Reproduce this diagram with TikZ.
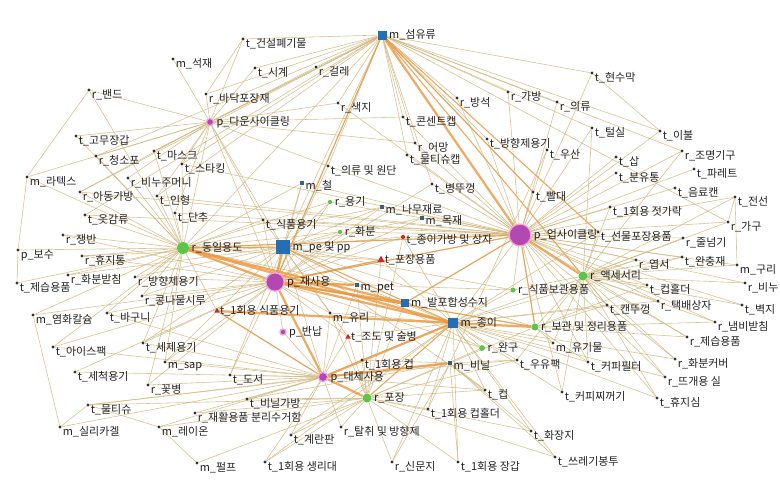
\documentclass[tikz,border=0pt]{standalone}
\usepackage{fontspec}
\newfontfamily\kr{Noto Sans CJK KR}
\definecolor{netBlue}{RGB}{38, 110, 180}
\definecolor{netTeal}{RGB}{50, 100, 130}
\definecolor{netPurple}{RGB}{178, 72, 176}
\definecolor{netPink}{RGB}{244, 160, 222}
\definecolor{netGreen}{RGB}{92, 196, 72}
\definecolor{netRed}{RGB}{204, 40, 40}
\definecolor{netDot}{RGB}{50, 50, 50}
\definecolor{netText}{RGB}{35, 35, 35}
\definecolor{edgeTan}{RGB}{210, 184, 128}
\definecolor{edgeOrange}{RGB}{236, 150, 60}
\usetikzlibrary{backgrounds, shapes.geometric}

\begin{document}
\begin{tikzpicture}[
    x=0.025cm, y=-0.025cm,
    lbl/.style={font=\kr\fontsize{7.8}{9}\selectfont, text=netText, inner sep=0.5pt},
    leaf/.style={circle, fill=netDot, inner sep=0pt, minimum size=2.2pt,
                 label={[lbl, yshift=-3.5pt]right:#1}},
    mdot/.style={rectangle, fill=netTeal, inner sep=0pt, minimum size=3.5pt,
                 label={[lbl, yshift=-2pt]right:#1}},
    rdot/.style={circle, fill=netRed, inner sep=0pt, minimum size=3pt,
                 label={[lbl, yshift=-2pt]right:#1}},
    msq/.style 2 args={rectangle, fill=netBlue, inner sep=0pt, minimum size=#2,
                       label={[lbl, label distance=1pt]right:#1}},
    pcirc/.style 2 args={circle, fill=netPurple, draw=netPink, line width=0.9pt,
                         inner sep=0pt, minimum size=#2,
                         label={[lbl, label distance=1pt]right:#1}},
    gcirc/.style 2 args={circle, fill=netGreen, inner sep=0pt, minimum size=#2,
                         label={[lbl, label distance=1pt]right:#1}},
    rtri/.style 2 args={regular polygon, regular polygon sides=3, fill=netRed,
                        inner sep=0pt, minimum size=#2,
                        label={[lbl]right:#1}},
    conn/.style={draw=edgeTan, line width=0.42pt, opacity=0.85},
    warm/.style={draw=edgeOrange!75!edgeTan, line width=0.8pt, opacity=0.85},
    strong/.style={draw=edgeOrange, line width=1.6pt, opacity=0.8},
  ]
    \useasboundingbox (0,0) rectangle (780,480);

    % hubs
    \node[msq={m\_섬유류}{6.4pt}] (mFiber) at (382,35) {};
    \node[msq={m\_pe 및 pp}{10pt}] (mPePp) at (283,247) {};
    \node[msq={m\_종이}{7pt}] (mPaper) at (453,323) {};
    \node[msq={m\_발포합성수지}{5pt}] (mFoam) at (405,303) {};
    \node[mdot={m\_철}] (mIron) at (302,183) {};
    \node[mdot={m\_나무재료}] (mWood) at (382,207) {};
    \node[mdot={m\_목재}] (mTimber) at (422,218) {};
    \node[mdot={m\_pet}] (mPet) at (357,285) {};
    \node[mdot={m\_비닐}] (mVinyl) at (450,363) {};
    \node[pcirc={p\_업사이클링}{15.5pt}] (pUp) at (520,235) {};
    \node[pcirc={p\_재사용}{13pt}] (pReuse) at (275,282) {};
    \node[pcirc={p\_대체사용}{6.6pt}] (pAlt) at (323,377) {};
    \node[pcirc={p\_다운사이클링}{5pt}] (pDown) at (210,122) {};
    \node[pcirc={p\_반납}{4.3pt}] (pReturn) at (283,332) {};
    \node[gcirc={r\_동일용도}{8.5pt}] (rSame) at (183,248) {};
    \node[gcirc={r\_액세서리}{6.4pt}] (rAcc) at (583,276) {};
    \node[gcirc={r\_포장}{6.4pt}] (rPack) at (367,398) {};
    \node[gcirc={r\_보관 및 정리용품}{5pt}] (rStore) at (535,327) {};
    \node[gcirc={r\_식품보관용품}{3.6pt}] (rFood) at (513,290) {};
    \node[gcirc={r\_완구}{4.2pt}] (rToy) at (482,348) {};
    \node[gcirc={r\_용기}{3pt}] (rCont) at (330,202) {};
    \node[gcirc={r\_화분}{3pt}] (rPot) at (340,232) {};
    \node[rtri={t\_포장용품}{6pt}] (tPackG) at (381,260) {};
    \node[rtri={t\_1회용 식품용기}{4.5pt}] (tDispFood) at (217,311) {};
    \node[rtri={t\_조도 및 술병}{4.5pt}] (tBottle) at (348,337) {};
    \node[rdot={t\_종이가방 및 상자}] (tPaperBag) at (403,237) {};

    % top
    \node[leaf={t\_건설폐기물}] (tConst) at (243,39) {};
    \node[leaf={m\_석재}] (mStone) at (173,59) {};
    \node[leaf={t\_시계}] (tClock) at (255,68) {};
    \node[leaf={r\_걸레}] (rMop) at (316,67) {};
    \node[leaf={r\_밴드}] (rBand) at (89,90) {};
    \node[leaf={r\_바닥포장재}] (rFloor) at (206,94) {};
    \node[leaf={r\_색지}] (rColor) at (338,103) {};
    \node[leaf={t\_콘센트캡}] (tOutlet) at (403,117) {};
    \node[leaf={r\_방석}] (rCushion) at (457,98) {};
    \node[leaf={r\_가방}] (rBag) at (508,92) {};
    \node[leaf={t\_현수막}] (tBanner) at (592,73) {};
    \node[leaf={r\_의류}] (rCloth) at (557,102) {};
    \node[leaf={t\_털실}] (tYarn) at (592,128) {};
    \node[leaf={t\_이불}] (tBlanket) at (660,131) {};
    \node[leaf={r\_어망}] (rNet) at (415,143) {};
    \node[leaf={t\_물티슈캡}] (tWetCap) at (407,155) {};
    \node[leaf={t\_방향제용기}] (tDiffuser) at (487,139) {};
    \node[leaf={t\_우산}] (tUmbrella) at (547,150) {};
    \node[leaf={r\_조명기구}] (rLight) at (682,151) {};
    \node[leaf={t\_삽}] (tShovel) at (616,157) {};
    \node[leaf={t\_분유통}] (tFormula) at (616,173) {};
    \node[leaf={t\_파레트}] (tPallet) at (694,169) {};
    \node[leaf={t\_음료캔}] (tCan) at (675,188) {};
    \node[leaf={t\_전선}] (tWire) at (735,197) {};
    \node[leaf={t\_빨대}] (tStraw) at (533,192) {};
    \node[leaf={t\_1회용 젓가락}] (tChop) at (610,207) {};
    \node[leaf={t\_병뚜껑}] (tCapB) at (432,184) {};
    \node[leaf={t\_의류 및 원단}] (tClothFab) at (328,166) {};
    \node[leaf={t\_식품용기}] (tFoodCon) at (263,220) {};

    % right
    \node[leaf={t\_선물포장용품}] (tGift) at (598,232) {};
    \node[leaf={r\_가구}] (rFurn) at (728,222) {};
    \node[leaf={r\_줄넘기}] (rRope) at (683,238) {};
    \node[leaf={r\_엽서}] (rCard) at (636,260) {};
    \node[leaf={t\_완충재}] (tBuffer) at (682,257) {};
    \node[leaf={m\_구리}] (mCopper) at (737,265) {};
    \node[leaf={t\_컵홀더}] (tCupHold) at (647,285) {};
    \node[leaf={r\_비누}] (rSoap) at (745,283) {};
    \node[leaf={t\_캔뚜껑}] (tCanLid) at (607,305) {};
    \node[leaf={r\_택배상자}] (rParcel) at (658,301) {};
    \node[leaf={t\_벽지}] (tWall) at (742,305) {};
    \node[leaf={r\_냄비받침}] (rTrivet) at (715,322) {};
    \node[leaf={r\_제습용품}] (rDehum) at (687,337) {};
    \node[leaf={m\_유기물}] (mOrganic) at (553,343) {};
    \node[leaf={t\_우유팩}] (tMilk) at (517,360) {};
    \node[leaf={t\_커피필터}] (tFilter) at (588,362) {};
    \node[leaf={r\_화분커버}] (rPotCov) at (675,359) {};
    \node[leaf={r\_뜨개용 실}] (rKnit) at (665,377) {};
    \node[leaf={t\_커피찌꺼기}] (tGround) at (562,392) {};
    \node[leaf={t\_휴지심}] (tTube) at (657,398) {};
    \node[leaf={t\_화장지}] (tTissue) at (531,431) {};
    \node[leaf={t\_쓰레기봉투}] (tTrash) at (555,457) {};

    % bottom
    \node[leaf={m\_유리}] (mGlass) at (330,313) {};
    \node[leaf={t\_1회용 컵}] (tDispCup) at (362,360) {};
    \node[leaf={t\_컵}] (tCup) at (485,390) {};
    \node[leaf={t\_1회용 컵홀더}] (tDispHold) at (428,409) {};
    \node[leaf={r\_탈취 및 방향제}] (rDeo) at (341,427) {};
    \node[leaf={t\_계란판}] (tEgg) at (291,435) {};
    \node[leaf={t\_1회용 생리대}] (tPad) at (265,462) {};
    \node[leaf={r\_신문지}] (rNews) at (392,462) {};
    \node[leaf={t\_1회용 장갑}] (tGlove1) at (458,462) {};
    \node[leaf={r\_재활용품 분리수거함}] (rRecycle) at (195,413) {};
    \node[leaf={t\_비닐가방}] (tVinylBag) at (247,399) {};
    \node[leaf={t\_도서}] (tBook) at (230,375) {};
    \node[leaf={m\_sap}] (mSap) at (165,362) {};
    \node[leaf={t\_세제용기}] (tDet) at (143,343) {};
    \node[leaf={t\_아이스팩}] (tIce) at (53,347) {};
    \node[leaf={t\_세척용기}] (tWash) at (75,372) {};
    \node[leaf={r\_꽃병}] (rVase) at (148,385) {};
    \node[leaf={t\_물티슈}] (tWipe) at (88,405) {};
    \node[leaf={m\_실리카겔}] (mSilica) at (60,427) {};
    \node[leaf={m\_레이온}] (mRayon) at (159,427) {};
    \node[leaf={m\_펄프}] (mPulp) at (197,463) {};

    % left
    \node[leaf={m\_염화칼슘}] (mCalc) at (33,315) {};
    \node[leaf={t\_바구니}] (tBasket) at (107,313) {};
    \node[leaf={r\_콩나물시루}] (rSprout) at (142,296) {};
    \node[leaf={t\_제습용품}] (tDehum) at (17,283) {};
    \node[leaf={r\_화분받침}] (rPotRest) at (68,275) {};
    \node[leaf={r\_방향제용기}] (rDiffCon) at (135,277) {};
    \node[leaf={r\_휴지통}] (rBin) at (82,256) {};
    \node[leaf={p\_보수}] (pRepair) at (18,250) {};
    \node[leaf={r\_쟁반}] (rTray) at (63,235) {};
    \node[leaf={t\_옷감류}] (tFabric) at (85,215) {};
    \node[leaf={t\_단추}] (tButton) at (175,213) {};
    \node[leaf={r\_아동가방}] (rKidBag) at (80,192) {};
    \node[leaf={t\_인형}] (tDoll) at (157,196) {};
    \node[leaf={m\_라텍스}] (mLatex) at (27,177) {};
    \node[leaf={r\_비누주머니}] (rSoapBag) at (128,178) {};
    \node[leaf={r\_청소포}] (rCleanPad) at (96,156) {};
    \node[leaf={t\_마스크}] (tMask) at (154,151) {};
    \node[leaf={t\_스타킹}] (tStock) at (182,164) {};
    \node[leaf={t\_고무장갑}] (tRubGlove) at (76,136) {};

    \begin{scope}[on background layer]
      \fill[white] (0,0) rectangle (780,480);
      \foreach \n in {pDown, rSame, rMop, tConst, tClock, rColor, tOutlet, rCushion,
          rBag, tBanner, rCloth, tYarn, tBlanket, rNet, tWetCap, tClothFab, tStock,
          tMask, rFloor, tDiffuser, tCapB, tStraw, rLight, rFurn, tFabric,
          rCleanPad, pReuse, mPePp, tDoll, rKidBag}
        \draw[conn] (mFiber) -- (\n);
      \foreach \n in {tConst, mStone, rBand, rFloor, tClock, rMop, tRubGlove,
          rCleanPad, tMask, tStock, mLatex, rSoapBag, rKidBag, tDoll, rColor,
          tClothFab, rNet, tButton, rSame, pReuse, mPePp, tFoodCon, tOutlet}
        \draw[conn] (pDown) -- (\n);
      \foreach \n in {tBanner, rCloth, tYarn, tBlanket, rBag, tUmbrella, rLight,
          tShovel, tFormula, tPallet, tCan, tWire, rFurn, tStraw, tChop, tGift,
          rRope, rCard, tBuffer, mCopper, rSoap, tWall, rTrivet, tCupHold, rParcel,
          rCushion, tDiffuser, rNet, tWetCap, tOutlet, tCapB, mWood, mTimber,
          tPaperBag, mIron, rCont, tFoodCon, rStore, rFood, mPaper, tDoll, rSame,
          tButton, rKidBag, tFabric, rDehum, rPotCov, rKnit, tTube, tFilter,
          tGround, tClothFab, rColor, tStock, rPot, pReuse, mFoam}
        \draw[conn] (pUp) -- (\n);
      \foreach \n in {pRepair, rTray, tButton, tDoll, rBin, rPotRest, rDiffCon,
          tDehum, rSprout, mLatex, tFabric, rKidBag, rSoapBag, tStock, tMask,
          rCleanPad, tRubGlove, rBand, mCalc, tBasket, tIce, tDet, tFoodCon, rVase,
          mSap, mPePp, rCont, rPot, mIron, tPackG, mPet, tDispFood, mWood}
        \draw[conn] (rSame) -- (\n);
      \foreach \n in {tFoodCon, rPot, rCont, mIron, tBottle, mGlass, pReturn,
          tPaperBag, mWood, rDiffCon, rSprout, tBasket, rTray, rBin, tDet, tIce,
          rStore, rToy, rFood, tClothFab, tPackG, mTimber, tCapB, mCalc, tWash,
          rVase, tBook, mSap}
        \draw[conn] (pReuse) -- (\n);
      \foreach \n in {tFoodCon, mIron, rCont, rPot, tPackG, mPet, rFood, rStore,
          rToy, tCup, tBottle, rDiffCon, tDet, rBin, mSap, tBook, mWood, mTimber,
          tPaperBag, pAlt, mGlass, rPotRest, rSprout}
        \draw[conn] (mPePp) -- (\n);
      \foreach \n in {tDispCup, tVinylBag, mSap, tBook, rVase, tDet, tIce, tWash,
          rRecycle, tEgg, mRayon, tWipe, mSilica, tBottle, tCup, tMilk, pReturn,
          mGlass, rDeo, tPad, mPet, tDispFood, tBasket}
        \draw[conn] (pAlt) -- (\n);
      \foreach \n in {tEgg, rDeo, rNews, tGlove1, tDispHold, tPad, mPulp, mRayon,
          tWipe, tVinylBag, rRecycle, tDispCup, mVinyl, tCup, tTissue, tTrash,
          tMilk, mPet, tPackG, tPaperBag, rToy, mGlass, tBottle, mFoam}
        \draw[conn] (rPack) -- (\n);
      \foreach \n in {tMilk, rToy, tDispHold, tCup, tFilter, tGround, tTube,
          tTissue, tTrash, rNews, tPad, tEgg, rParcel, tCanLid, tGift, rCard,
          tBuffer, tDispCup, tPaperBag, rFood, rKnit, mOrganic, rPotCov, tGlove1,
          tPackG, tBottle, mGlass, mPet}
        \draw[conn] (mPaper) -- (\n);
      \foreach \n in {tCupHold, tCanLid, rParcel, rCard, mCopper, tWall, rSoap,
          rTrivet, rDehum, rPotCov, rKnit, tTube, mOrganic, tFilter, rFurn,
          tBuffer, rRope, tGift, rLight, tChop, tGround, tMilk, rFood, rStore,
          tYarn, tWire}
        \draw[conn] (rAcc) -- (\n);
      \foreach \n in {tVinylBag, tTrash, tGlove1, tDispHold, rStore, tCup, tMilk,
          tWipe, tUmbrella, tTissue, tDispCup, rNews}
        \draw[conn] (mVinyl) -- (\n);
      \foreach \n in {tCupHold, mOrganic, tFilter, rTrivet, rDehum, tCanLid}
        \draw[conn] (rStore) -- (\n);
      \draw[conn] (mLatex) -- (pRepair) -- (tDehum) (mCalc) -- (mSilica)
        (mLatex) -- (rBand) (tWire) -- (mCopper) (rFurn) -- (tWire)
        (mSilica) -- (tWipe) (tWipe) -- (mRayon) (rFloor) -- (tConst)
        (tBanner) -- (tBlanket) (mRayon) -- (mPulp);

      % heavy ties
      \draw[warm] (mFiber) -- (rAcc);
      \draw[warm] (mFiber) -- (tGift);
      \draw[warm] (mFiber) -- (pReuse);
      \draw[warm] (mFiber) -- (tStraw);
      \draw[warm] (pUp) -- (rStore);
      \draw[warm] (pUp) -- (pReuse);
      \draw[warm] (pUp) -- (mFoam);
      \draw[warm] (rSame) -- (mPePp);
      \draw[warm] (rSame) -- (pUp);
      \draw[warm] (mPePp) -- (mPaper);
      \draw[warm] (tDispFood) -- (pAlt);
      \draw[warm] (pReuse) -- (tPackG);
      \draw[warm] (pReuse) -- (rStore);
      \draw[warm] (rPack) -- (mPaper);
      \draw[strong] (mFiber) -- (pUp);
      \draw[strong] (pUp) -- (rAcc);
      \draw[strong] (pReuse) -- (mPePp);
      \draw[strong] (pReuse) -- (rSame);
      \draw[strong] (pReuse) -- (pAlt);
      \draw[strong] (pReuse) -- (mPet);
      \draw[strong] (pReuse) -- (mFoam);
      \draw[strong] (pReuse) -- (mPaper);
      \draw[strong] (rSame) -- (mFoam);
      \draw[strong] (rSame) -- (mPaper);
      \draw[strong] (tDispFood) -- (mPaper);
      \draw[strong] (mPaper) -- (rStore);
      \draw[strong] (pAlt) -- (rPack);
      \draw[strong] (pAlt) -- (mVinyl);
      \draw[strong] (pAlt) -- (mPaper);
    \end{scope}
  \end{tikzpicture}
\end{document}
